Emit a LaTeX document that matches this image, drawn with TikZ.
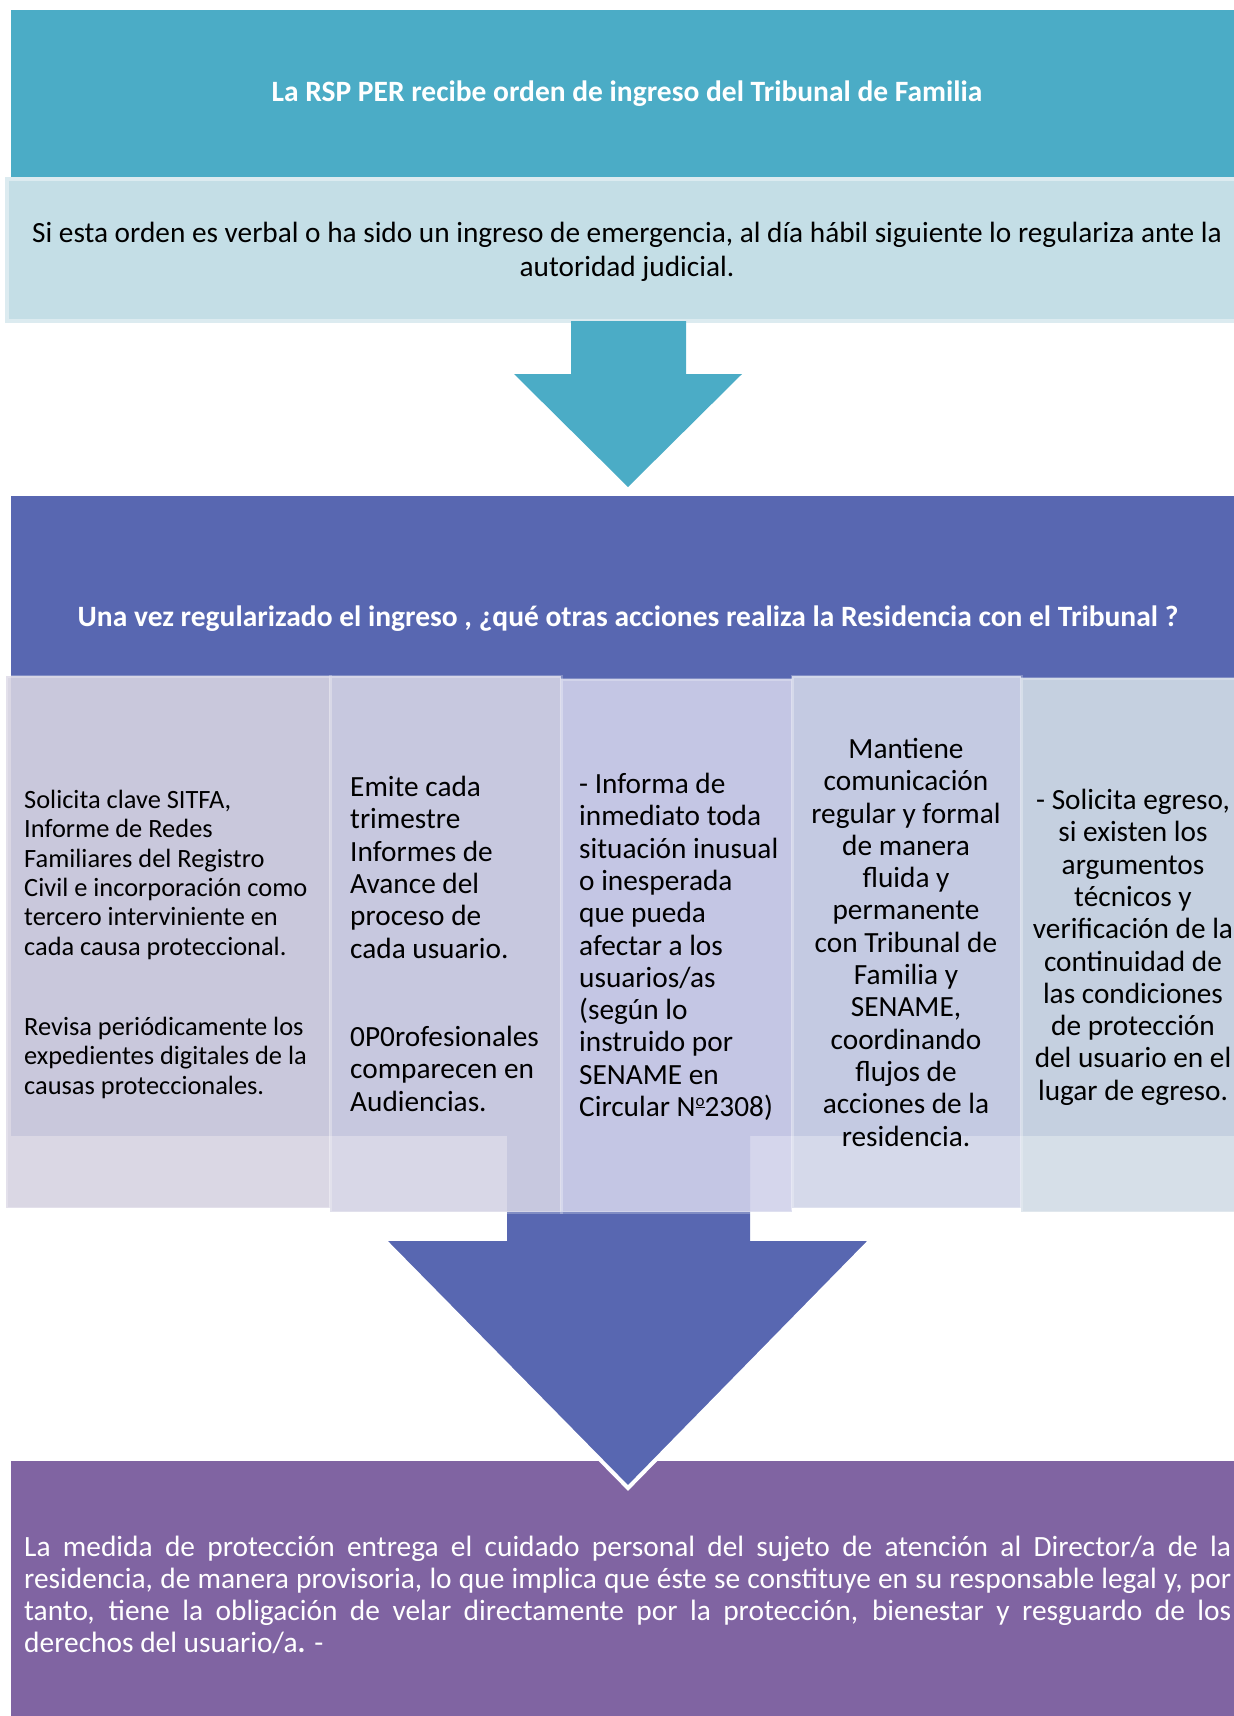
\documentclass[tikz,border=0pt]{standalone}
\usepackage{fontspec}
\setmainfont{Carlito}
\usepackage{tikz}

\definecolor{cabecera}{RGB}{75,172,198}
\definecolor{aviso}{RGB}{196,222,230}
\definecolor{acciones}{RGB}{88,103,177}
\definecolor{medida}{RGB}{128,100,162}
\definecolor{colA}{RGB}{214,211,225}
\definecolor{colB}{RGB}{212,211,228}
\definecolor{colC}{RGB}{208,209,234}
\definecolor{colD}{RGB}{208,213,232}
\definecolor{colE}{RGB}{209,220,230}

\newcommand{\numero}{N\raisebox{0.36em}{\fontsize{17}{17}\selectfont\underline{o}}}

\tikzset{
  titulo/.style={inner sep=0pt, text=white, font=\fontsize{29.5}{32}\selectfont\bfseries},
  colbox/.style={fill=#1, fill opacity=0.9, draw=white, draw opacity=0.25, line width=3pt},
  coltext/.style={inner sep=0pt, align=left, font=\fontsize{29.3}{32.3}\selectfont},
  colcentro/.style={inner sep=0pt, align=center, font=\fontsize{29.3}{32.3}\selectfont},
}

\begin{document}
\begin{tikzpicture}[x=1pt,y=-1pt]
\useasboundingbox (0,0) rectangle (1234,1716);
\clip (0,0) rectangle (1234,1716);

% primer bloque
\fill[cabecera] (11,10) rectangle (1250,177);
\node[titulo] (recibe) at (627,94) {La RSP PER recibe orden de ingreso del Tribunal de Familia};
\path[fill=aviso, draw=aviso!60!white, line width=4pt] (7,179) rectangle (1252,321);
\node[inner sep=0pt, align=center, font=\fontsize{29.3}{33.4}\selectfont] (verbal) at (627,252)
  {Si esta orden es verbal o ha sido un ingreso de emergencia, al día hábil siguiente lo regulariza ante la\\autoridad judicial.};
\fill[cabecera] (571,321) -- (571,374) -- (514,374) -- (628,487) -- (742,374) -- (686,374) -- (686,321) -- cycle;

% bloque final y flecha
\fill[medida] (11,1461) rectangle (1250,1716);
\fill[acciones] (11,496) rectangle (1250,1136);
\fill[acciones] (507,1130) -- (507,1241) -- (385,1241) -- (628,1488) -- (870,1241) -- (750,1241) -- (750,1130) -- cycle;
\draw[white, line width=4pt] (385,1241) -- (628,1488) -- (870,1241);
\node[titulo] (pregunta) at (628,619) {Una vez regularizado el ingreso , ¿qué otras acciones realiza la Residencia con el Tribunal ?};

% columnas
\path[colbox=colA] (6,676) rectangle (330,1208);
\path[colbox=colB] (330,676) rectangle (561,1212);
\path[colbox=colC] (561,679) rectangle (792,1212);
\path[colbox=colD] (792,676) rectangle (1021,1208);
\path[colbox=colE] (1021,678) rectangle (1252,1212);

\node[inner sep=0pt, align=left, font=\fontsize{26.4}{29.3}\selectfont, anchor=north west] (solicita) at (24,790)
  {Solicita clave SITFA,\\Informe de Redes\\Familiares del Registro\\Civil e incorporación como\\tercero interviniente en\\cada causa proteccional.};
\node[inner sep=0pt, align=left, font=\fontsize{26.4}{29.3}\selectfont, anchor=north west] (revisa) at (24,1017)
  {Revisa periódicamente los\\expedientes digitales de la\\causas proteccionales.};
\node[coltext, anchor=north west] (emite) at (350,776)
  {Emite cada\\trimestre\\Informes de\\Avance del\\proceso de\\cada usuario.};
\node[coltext, anchor=north west] (comparecen) at (350,1026)
  {0P0rofesionales\\comparecen en\\Audiencias.};
\node[coltext, anchor=north west] (informa) at (579,773)
  {- Informa de\\inmediato toda\\situación inusual\\o inesperada\\que pueda\\afectar a los\\usuarios/as\\(según lo\\instruido por\\SENAME en\\Circular \numero2308)};
\node[colcentro, anchor=north] (mantiene) at (906,738)
  {Mantiene\\comunicación\\regular y formal\\de manera\\fluida y\\permanente\\con Tribunal de\\Familia y\\SENAME,\\coordinando\\flujos de\\acciones de la\\residencia.};
\node[colcentro, anchor=north] (egreso) at (1133,789)
  {- Solicita egreso,\\si existen los\\argumentos\\técnicos y\\verificación de la\\continuidad de\\las condiciones\\de protección\\del usuario en el\\lugar de egreso.};

% texto final
\node[inner sep=0pt, align=left, text=white, font=\fontsize{29.4}{32}\selectfont, anchor=north west] (cuidado) at (24,1536)
  {\makebox[1207pt][s]{La medida de protección entrega el cuidado personal del sujeto de atención al Director/a de la}\\
   \makebox[1207pt][s]{residencia, de manera provisoria, lo que implica que éste se constituye en su responsable legal y, por}\\
   \makebox[1207pt][s]{tanto, tiene la obligación de velar directamente por la protección, bienestar y resguardo de los}\\
   derechos del usuario/a\textbf{.} -};
\end{tikzpicture}
\end{document}
